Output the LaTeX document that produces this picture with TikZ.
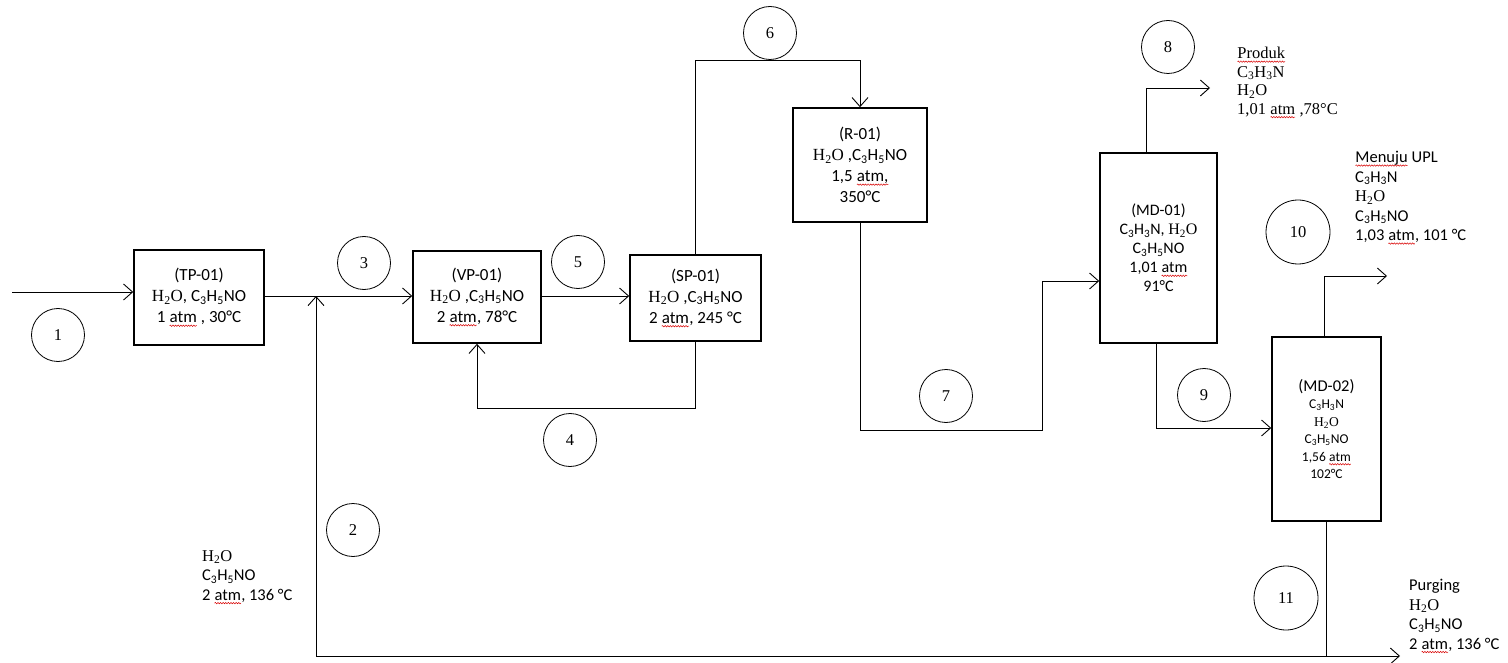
\documentclass[tikz,border=0pt]{standalone}
\usepackage{fontspec}
\setmainfont{Carlito}
\newfontfamily\tmsfont{Liberation Serif}
\usetikzlibrary{arrows.meta,decorations.pathmorphing}
\newcommand\wat{{\tmsfont H\textsubscript{2}O}}
\newcommand\acn{C\textsubscript{3}H\textsubscript{3}N}
\newcommand\acm{C\textsubscript{3}H\textsubscript{5}NO}
\newcommand\sq[1]{\tikz[baseline=(w.base),x=1pt,y=1pt]{\node[draw=none,fill=none,inner sep=0pt,outer sep=0pt,minimum size=0pt,anchor=base](w){#1};\draw[draw=red!85!black,line width=0.5pt,decorate,decoration={snake,amplitude=0.7pt,segment length=2.6pt}] ([yshift=-3pt]w.base west) -- ([yshift=-3pt]w.base east);}}
\tikzset{
 unit/.style={draw, line width=1.6pt, align=center, inner sep=0pt, font=\fontsize{17}{21}\selectfont},
 num/.style={draw, circle, line width=0.8pt, minimum size=53pt, inner sep=0pt, font=\tmsfont\fontsize{16.5}{18}\selectfont},
 bignum/.style={num, minimum size=64pt},
 flow/.style={line width=0.9pt, -{Straight Barb[length=9pt,width=16pt,line width=0.9pt]}},
 pipe/.style={line width=0.9pt},
 lbl/.style={align=left, anchor=north west, inner sep=0pt, font=\fontsize{16.5}{19.5}\selectfont},
}
\begin{document}
\begin{tikzpicture}[x=1pt,y=-1pt]
\useasboundingbox[fill=white] (0,0) rectangle (1508,663);
% units
\node[unit, minimum width=130pt, minimum height=95pt] (tp) at (199,297.5) {(TP-01)\\\wat, \acm\\1 \sq{atm} , 30°C};
\node[unit, minimum width=128pt, minimum height=92pt] (vp) at (477,297) {(VP-01)\\\wat\ ,\acm\\2 \sq{atm}, 78°C};
\node[unit, minimum width=131pt, minimum height=86pt] (sp) at (695.5,298) {(SP-01)\\\wat\ ,\acm\\2 \sq{atm}, 245 °C};
\node[unit, minimum width=134pt, minimum height=114pt] (r) at (860,165) {(R-01)\\\wat\ ,\acm\\1,5 \sq{atm,}\\350°C};
\node[unit, minimum width=117pt, minimum height=190pt, font=\fontsize{16}{19}\selectfont] (md1) at (1158.5,248) {(MD-01)\\\acn, \wat\\\acm\\1,01 \sq{atm}\\91°C};
\node[unit, minimum width=109pt, minimum height=184pt, font=\fontsize{13.5}{17.5}\selectfont] (md2) at (1326.5,429) {{\fontsize{16.5}{17.5}\selectfont(MD-02)}\\\acn\\\wat\\\acm\\1,56 \sq{atm}\\102°C};
% stream numbers
\node[num] (n1) at (58,335) {1};
\node[num] (n2) at (353,530) {2};
\node[num] (n3) at (364,263) {3};
\node[num] (n4) at (570,440) {4};
\node[num] (n5) at (578,262) {5};
\node[num] (n6) at (770,33) {6};
\node[num] (n7) at (946,396) {7};
\node[num] (n8) at (1168,47) {8};
\node[num] (n9) at (1204,395) {9};
\node[bignum] (n10) at (1298,232) {10};
\node[bignum] (n11) at (1286,598) {11};
% labels
\node[lbl] (l2) at (202,550) {\wat\\\acm\\2 \sq{atm}, 136 °C};
\node[lbl, font=\tmsfont\fontsize{16.5}{18.5}\selectfont] (lp) at (1237,47) {\sq{Produk}\\\acn\\\wat\\1,01 \sq{atm} ,78°C};
\node[lbl] (lu) at (1355,151) {\sq{Menuju} UPL\\\acn\\\wat\\\acm\\1,03 \sq{atm}, 101 °C};
\node[lbl] (lg) at (1409,579) {Purging\\\wat\\\acm\\2 \sq{atm}, 136 °C};
% coordinates
\coordinate (in1) at (12,292);
\coordinate (j3) at (316,296);
\coordinate (b2) at (316,656);
\coordinate (pend) at (1400,656);
\coordinate (k7) at (1042,281);
\coordinate (o8) at (1210,88);
\coordinate (o10) at (1387,276);
% connectors
\draw[flow] (in1) -- (tp.west |- in1);
\draw[flow] (tp.east |- j3) -- (vp.west |- j3);
\draw[flow] (b2) -- (j3);
\draw[flow] (b2) -- (pend);
\draw[pipe] (md2.south) -- (md2.south |- pend);
\draw[flow] (vp.east |- j3) -- (sp.west |- j3);
\draw[flow] (sp.north) -- (sp.north |- 0,60) -| (r.north);
\draw[flow] (sp.south) -- (sp.south |- 0,408) -| (vp.south);
\draw[flow] (r.south) -- (r.south |- 0,430) -| (k7) -- (md1.west |- k7);
\draw[flow] (1146,0 |- md1.north) |- (o8);
\draw[flow] (1156,0 |- md1.south) |- (md2.west |- 0,428);
\draw[flow] (1324,0 |- md2.north) |- (o10);
\end{tikzpicture}
\end{document}
